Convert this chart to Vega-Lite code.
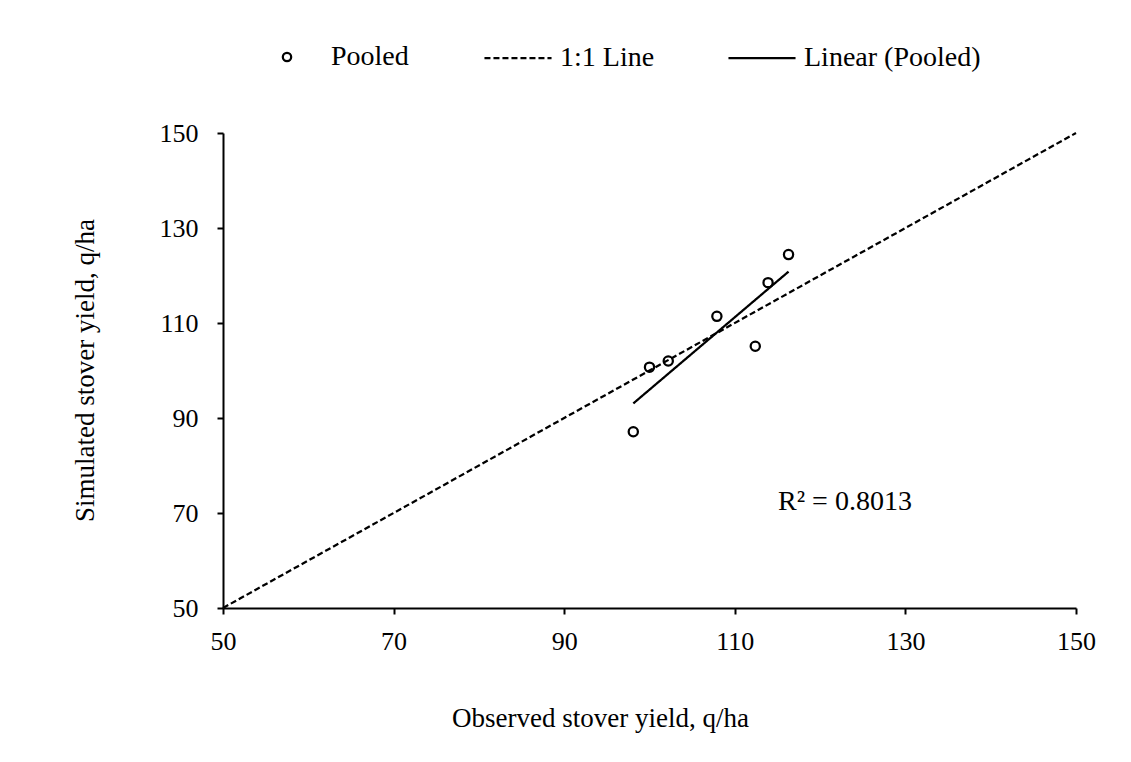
{
  "$schema": "https://vega.github.io/schema/vega-lite/v6.json",
  "autosize": {"type": "none"},
  "padding": {"left": 223, "top": 133, "right": 55, "bottom": 154},
  "width": 853,
  "height": 475,
  "background": "white",
  "config": {
    "font": "Liberation Serif",
    "view": {"stroke": null},
    "axis": {
      "grid": false,
      "domainColor": "black",
      "domainWidth": 2,
      "tickColor": "black",
      "tickWidth": 2,
      "tickSize": 6,
      "labelFont": "Liberation Serif",
      "labelFontSize": 26,
      "labelColor": "black",
      "labelFlush": false,
      "titleFont": "Liberation Serif",
      "titleFontSize": 27,
      "titleFontWeight": "normal",
      "titleColor": "black"
    },
    "legend": {
      "labelFont": "Liberation Serif",
      "labelFontSize": 28,
      "labelColor": "black",
      "labelLimit": 0,
      "padding": 0,
      "title": null
    }
  },
  "datasets": {
    "pooled": [
      {"observed": 116.3, "simulated": 124.4},
      {"observed": 113.9, "simulated": 118.5},
      {"observed": 107.9, "simulated": 111.4},
      {"observed": 112.4, "simulated": 105.1},
      {"observed": 102.2, "simulated": 102.0},
      {"observed": 100.0, "simulated": 100.7},
      {"observed": 98.1, "simulated": 87.1}
    ],
    "oneToOne": [
      {"observed": 50, "simulated": 50},
      {"observed": 150, "simulated": 150}
    ],
    "annotation": [
      {"observed": 115.07, "simulated": 70.7, "label": "R² = 0.8013"}
    ]
  },
  "encoding": {
    "x": {
      "field": "observed",
      "type": "quantitative",
      "scale": {"domain": [50, 150], "nice": false, "zero": false},
      "axis": {
        "values": [50, 70, 90, 110, 130, 150],
        "labelPadding": 14,
        "title": "Observed stover yield, q/ha",
        "titleX": 377,
        "titleY": 118,
        "titleBaseline": "alphabetic",
        "titleAlign": "center",
        "titleAnchor": null
      }
    },
    "y": {
      "field": "simulated",
      "type": "quantitative",
      "scale": {"domain": [50, 150], "nice": false, "zero": false},
      "axis": {
        "values": [50, 70, 90, 110, 130, 150],
        "labelPadding": 19,
        "title": "Simulated stover yield, q/ha",
        "titleAngle": -90,
        "titleX": -130,
        "titleY": 237,
        "titleBaseline": "alphabetic",
        "titleAlign": "center",
        "titleAnchor": null
      }
    }
  },
  "layer": [
    {
      "data": {"name": "oneToOne"},
      "mark": {"type": "line", "color": "black", "strokeWidth": 2.25},
      "encoding": {
        "strokeDash": {
          "datum": "1:1 Line",
          "scale": {"domain": ["1:1 Line", "Linear (Pooled)"], "range": [[6, 3], [1, 0]]},
          "legend": {
            "orient": "none",
            "legendX": 260,
            "legendY": -110,
            "direction": "horizontal",
            "symbolType": "stroke",
            "symbolSize": 4500,
            "symbolStrokeColor": "black",
            "symbolStrokeWidth": 2.25,
            "labelOffset": 7,
            "columnPadding": 68
          }
        }
      }
    },
    {
      "data": {"name": "pooled"},
      "transform": [{"regression": "simulated", "on": "observed"}],
      "mark": {"type": "line", "color": "black", "strokeWidth": 2.25},
      "encoding": {
        "strokeDash": {"datum": "Linear (Pooled)"}
      }
    },
    {
      "data": {"name": "pooled"},
      "mark": {"type": "point", "filled": false, "color": "black", "strokeWidth": 2.25, "size": 85, "opacity": 1},
      "encoding": {
        "shape": {
          "datum": "Pooled",
          "scale": {"domain": ["Pooled"], "range": ["circle"]},
          "legend": {
            "orient": "none",
            "legendX": 50,
            "legendY": -90,
            "direction": "horizontal",
            "symbolSize": 70,
            "symbolStrokeColor": "black",
            "symbolStrokeWidth": 2.25,
            "symbolFillColor": "transparent",
            "labelOffset": 30
          }
        }
      }
    },
    {
      "data": {"name": "annotation"},
      "mark": {"type": "text", "align": "left", "baseline": "alphabetic", "fontSize": 28, "font": "Liberation Serif", "color": "black"},
      "encoding": {
        "text": {"field": "label"}
      }
    }
  ]
}
